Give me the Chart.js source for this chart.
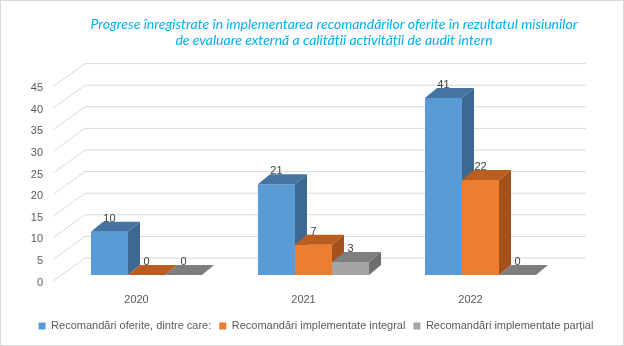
<!DOCTYPE html>
<html><head><meta charset="utf-8">
<script src="https://cdn.jsdelivr.net/npm/chart.js@4.4.0/dist/chart.umd.min.js"></script>
<style>html,body{margin:0;padding:0;background:#fff}#wrap{width:624px;height:346px;position:relative}</style>
</head><body><div id="wrap"><canvas id="c" width="624" height="346"></canvas></div>
<script>
const categories = ['2020', '2021', '2022'];
const seriesNames = ['Recomandări oferite, dintre care:', 'Recomandări implementate integral', 'Recomandări implementate parțial'];
const oferite = [10, 21, 41];
const integral = [0, 7, 22];
const partial = [0, 3, 0];
const yTicks = [0, 5, 10, 15, 20, 25, 30, 35, 40, 45];
const titleLines = ['Progrese înregistrate în implementarea recomandărilor oferite în rezultatul misiunilor', 'de evaluare externă a calității activității de audit intern'];

const frontColors = ['#5B9BD5', '#ED7D31', '#A5A5A5'];
const sideColors = ['#3C6892', '#A4511B', '#6E6E6E'];
const topColors = ['#4574A3', '#BC5D20', '#7E7E7E'];

const DEPTH_X = 12, DEPTH_Y = -10;      // bar extrusion
const FRONT_DX = -10, FRONT_DY = 6;     // front plane relative to bars
const BACK_DX = 22, BACK_DY = -17;      // back wall relative to bars
const GRID = '#D9D9D9';
const FONT = 'Liberation Sans, Arial, sans-serif';

const bar3d = {
  id: 'bar3d',
  beforeDraw(chart) {
    const ctx = chart.ctx;
    ctx.save();
    ctx.fillStyle = '#fff';
    ctx.fillRect(0, 0, chart.width, chart.height);
    ctx.restore();
  },
  afterLayout(chart) {
    if (chart.titleBlock) { chart.titleBlock.left = 44; chart.titleBlock.right = 624; }
    if (chart.legend) { chart.legend.left = 8; chart.legend.right = 624; }
  },
  beforeDatasetsDraw(chart) {
    const ctx = chart.ctx;
    const ys = chart.scales.y;
    const area = chart.chartArea;
    ctx.save();
    ctx.strokeStyle = GRID;
    ctx.lineWidth = 1;
    yTicks.forEach(v => {
      const y = ys.getPixelForValue(v);
      ctx.beginPath();
      ctx.moveTo(area.left + FRONT_DX, y + FRONT_DY);
      ctx.lineTo(area.left + BACK_DX, y + BACK_DY);
      ctx.lineTo(area.right + BACK_DX, y + BACK_DY);
      ctx.stroke();
    });
    const n = chart.data.labels.length;
    const metas = chart.data.datasets.map((d, i) => chart.getDatasetMeta(i));
    for (let c = 0; c < n; c++) {
      metas.forEach((meta, di) => {
        const el = meta.data[c];
        const p = el.getProps(['x', 'y', 'width', 'base'], true);
        const l = p.x - p.width / 2, r = p.x + p.width / 2, t = p.y, b = p.base;
        ctx.fillStyle = sideColors[di];
        ctx.beginPath();
        ctx.moveTo(r, t); ctx.lineTo(r + DEPTH_X, t + DEPTH_Y);
        ctx.lineTo(r + DEPTH_X, b + DEPTH_Y); ctx.lineTo(r, b); ctx.closePath();
        ctx.fill();
        ctx.fillStyle = frontColors[di];
        ctx.fillRect(l, t, r - l, b - t);
        ctx.fillStyle = topColors[di];
        ctx.beginPath();
        ctx.moveTo(l, t); ctx.lineTo(l + DEPTH_X, t + DEPTH_Y);
        ctx.lineTo(r + DEPTH_X, t + DEPTH_Y); ctx.lineTo(r, t); ctx.closePath();
        ctx.fill();
      });
    }
    ctx.fillStyle = '#404040';
    ctx.font = '11px ' + FONT;
    ctx.textAlign = 'center';
    ctx.textBaseline = 'middle';
    metas.forEach((meta, di) => {
      meta.data.forEach((el, c) => {
        const p = el.getProps(['x', 'y'], true);
        ctx.fillText(String(chart.data.datasets[di].data[c]), p.x, p.y - 13);
      });
    });
    ctx.restore();
    return false;
  },
  afterDraw(chart) {
    const ctx = chart.ctx;
    ctx.save();
    ctx.strokeStyle = '#D9D9D9';
    ctx.lineWidth = 1;
    ctx.strokeRect(0.5, 0.5, chart.width - 1, chart.height - 1);
    ctx.restore();
  }
};

new Chart(document.getElementById('c'), {
  type: 'bar',
  data: {
    labels: categories,
    datasets: [
      { label: seriesNames[0], data: oferite, backgroundColor: frontColors[0] },
      { label: seriesNames[1], data: integral, backgroundColor: frontColors[1] },
      { label: seriesNames[2], data: partial, backgroundColor: frontColors[2] }
    ]
  },
  options: {
    responsive: false,
    devicePixelRatio: 1,
    animation: false,
    categoryPercentage: 0.665,
    barPercentage: 1,
    layout: { padding: { top: 0, bottom: 4.5, left: 0, right: 0 } },
    scales: {
      x: {
        grid: { display: false }, border: { display: false },
        ticks: { color: '#595959', font: { family: FONT, size: 11 }, padding: 10, labelOffset: FRONT_DX, maxRotation: 0, autoSkip: false },
        afterFit(s) { s.height = 37.5; }
      },
      y: {
        min: 0, max: 45, position: 'left',
        grid: { display: false }, border: { display: false },
        ticks: { color: '#595959', font: { family: FONT, size: 11 }, padding: 12, labelOffset: 7.5 },
        afterBuildTicks(s) { s.ticks = yTicks.map(v => ({ value: v })); },
        afterFit(s) { s.width = 63; }
      },
      yR: {
        position: 'right', display: true,
        grid: { display: false }, border: { display: false },
        ticks: { display: false },
        afterFit(s) { s.width = 60; }
      }
    },
    plugins: {
      title: {
        display: true, text: titleLines, color: '#00B0F0',
        font: { family: 'Lato, sans-serif', size: 14, style: 'italic', weight: 'normal', lineHeight: 1.2 },
        padding: { top: 15.6, bottom: 31.4 }
      },
      legend: {
        position: 'bottom',
        labels: { boxWidth: 7, boxHeight: 7, padding: 8, color: '#595959', font: { family: FONT, size: 11 } }
      },
      tooltip: { enabled: false }
    }
  },
  plugins: [bar3d]
});
</script></body></html>
